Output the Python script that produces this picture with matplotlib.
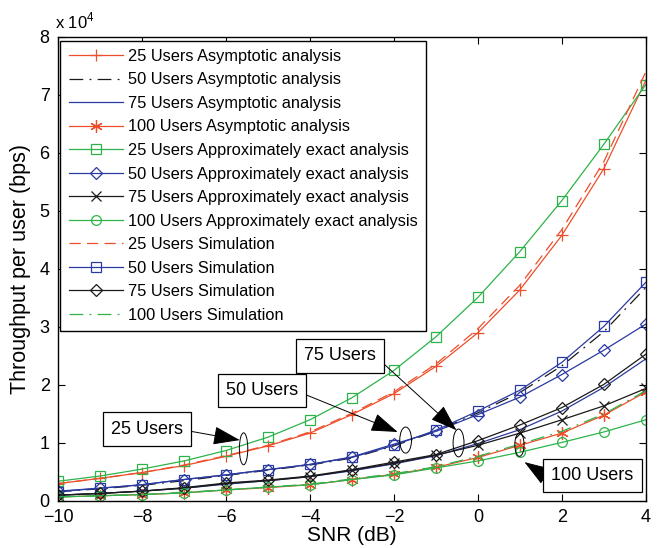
import matplotlib
matplotlib.use("Agg")
import matplotlib.pyplot as plt
from matplotlib.patches import Ellipse

plt.rcParams['font.family'] = ['Liberation Sans', 'DejaVu Sans']
plt.rcParams['mathtext.fontset'] = 'custom'
plt.rcParams['mathtext.rm'] = 'Liberation Sans'

# SNR in dB, throughput in units of 1e4 bps
snr = [-10, -9, -8, -7, -6, -5, -4, -3, -2, -1, 0, 1, 2, 3, 4]

asym25 = [0.30, 0.39, 0.49, 0.61, 0.77, 0.95, 1.17, 1.49, 1.85, 2.32, 2.90, 3.64, 4.58, 5.73, 7.25]
asym50 = [0.16, 0.21, 0.27, 0.35, 0.44, 0.53, 0.62, 0.74, 0.95, 1.20, 1.52, 1.87, 2.33, 2.92, 3.68]
asym75 = [0.10, 0.13, 0.17, 0.22, 0.29, 0.35, 0.42, 0.52, 0.64, 0.78, 0.99, 1.23, 1.55, 1.96, 2.45]
asym100 = [0.07, 0.09, 0.11, 0.14, 0.19, 0.23, 0.28, 0.37, 0.46, 0.58, 0.75, 0.96, 1.17, 1.48, 1.88]
approx25 = [0.34, 0.43, 0.55, 0.69, 0.87, 1.10, 1.40, 1.78, 2.25, 2.83, 3.51, 4.30, 5.18, 6.15, 7.18]
approx50 = [0.17, 0.22, 0.28, 0.37, 0.45, 0.54, 0.63, 0.76, 0.98, 1.20, 1.49, 1.79, 2.18, 2.60, 3.05]
approx75 = [0.10, 0.13, 0.17, 0.22, 0.30, 0.35, 0.42, 0.53, 0.65, 0.79, 0.96, 1.17, 1.40, 1.64, 1.94]
approx100 = [0.07, 0.09, 0.11, 0.14, 0.19, 0.24, 0.28, 0.37, 0.45, 0.57, 0.69, 0.84, 1.01, 1.19, 1.40]
sim25 = [0.30, 0.39, 0.49, 0.62, 0.78, 0.96, 1.19, 1.51, 1.88, 2.36, 2.97, 3.72, 4.68, 5.85, 7.40]
sim50 = [0.16, 0.22, 0.28, 0.37, 0.45, 0.54, 0.63, 0.75, 0.96, 1.22, 1.55, 1.91, 2.39, 3.01, 3.77]
sim75 = [0.10, 0.13, 0.17, 0.23, 0.31, 0.36, 0.43, 0.54, 0.67, 0.80, 1.04, 1.31, 1.61, 2.01, 2.53]
sim100 = [0.07, 0.09, 0.11, 0.15, 0.19, 0.24, 0.29, 0.38, 0.47, 0.59, 0.77, 0.98, 1.20, 1.50, 1.90]

red = '#ee4e2a'
green = '#2db34a'
blue = '#2b3aa0'
black = '#1a1a1a'

dashed = (0, (9, 5))
dashdot = (0, (11, 5, 1.5, 5))
asterisk = (6, 2, 0)

series = [
    (asym25, '25 Users Asymptotic analysis', red, '-', '+'),
    (asym50, '50 Users Asymptotic analysis', black, dashdot, None),
    (asym75, '75 Users Asymptotic analysis', blue, '-', None),
    (asym100, '100 Users Asymptotic analysis', red, '-', asterisk),
    (approx25, '25 Users Approximately exact analysis', green, '-', 's'),
    (approx50, '50 Users Approximately exact analysis', blue, '-', 'D'),
    (approx75, '75 Users Approximately exact analysis', black, '-', 'x'),
    (approx100, '100 Users Approximately exact analysis', green, '-', 'o'),
    (sim25, '25 Users Simulation', red, dashed, None),
    (sim50, '50 Users Simulation', blue, '-', 's'),
    (sim75, '75 Users Simulation', black, '-', 'D'),
    (sim100, '100 Users Simulation', green, dashdot, None),
]

fig = plt.figure(figsize=(6.59, 5.48), dpi=100)
ax = fig.add_axes([0.088, 0.0858, 0.892, 0.8467])

for vals, label, col, ls, mk in series:
    ms = 7
    if mk == 'D':
        ms = 6
    if mk == asterisk or mk == '+':
        ms = 9
    ax.plot(snr, vals, color=col, linestyle=ls, marker=mk, markersize=ms,
            markerfacecolor='none', markeredgecolor=col, markeredgewidth=0.9,
            linewidth=0.9, label=label)

ax.set_xlim(-10, 4)
ax.set_ylim(0, 8)
ax.set_xticks(range(-10, 5, 2))
ax.set_xticklabels(['\u221210', '\u22128', '\u22126', '\u22124', '\u22122', '0', '2', '4'])
ax.set_yticks(range(0, 9))
ax.tick_params(direction='in', top=True, right=True, labelsize=13, length=5, width=0.8, pad=6)
for sp in ax.spines.values():
    sp.set_linewidth(1.0)
ax.set_xlabel('SNR (dB)', fontsize=15, labelpad=0)
ax.set_ylabel('Throughput per user (bps)', fontsize=15.5, labelpad=6)
ax.text(-0.005, 1.012, r'x 10$^{4}$', transform=ax.transAxes, fontsize=12, ha='left', va='bottom')

leg = ax.legend(loc='upper left', bbox_to_anchor=(0.004, 0.992), fontsize=11.8, frameon=True,
                fancybox=False, edgecolor='black', framealpha=1, handlelength=3.3,
                handletextpad=0.35, labelspacing=0.52, borderpad=0.5, borderaxespad=0)
leg.get_frame().set_linewidth(1.0)

# annotation boxes with arrows and ellipses
bbox = dict(boxstyle='square,pad=0.45', facecolor='white', edgecolor='black', linewidth=0.9)
arrow = dict(arrowstyle='-|>,head_length=1.3,head_width=0.45', color='black', lw=0.7,
             shrinkA=0, shrinkB=0)

ax.annotate('25 Users', xy=(-5.67, 1.05), xytext=(-7.88, 1.24), fontsize=13, ha='center', va='center',
            bbox=bbox, arrowprops=dict(arrow, relpos=(1.0, 0.45)))
ax.annotate('50 Users', xy=(-1.91, 1.19), xytext=(-5.14, 1.9), fontsize=13, ha='center', va='center',
            bbox=bbox, arrowprops=dict(arrow, relpos=(1.0, 0.45)))
ax.annotate('75 Users', xy=(-0.51, 1.22), xytext=(-3.28, 2.5), fontsize=13, ha='center', va='center',
            bbox=bbox, arrowprops=dict(arrow, relpos=(1.0, 0.45)))
ax.annotate('100 Users', xy=(1.11, 0.67), xytext=(2.73, 0.44), fontsize=13, ha='center', va='center',
            bbox=bbox, arrowprops=dict(arrow, relpos=(0.0, 0.25)))

for cx, cy, w, h in [(-5.58, 0.90, 0.2, 0.55), (-1.72, 1.05, 0.28, 0.45),
                     (-0.46, 1.0, 0.26, 0.48), (0.99, 0.97, 0.22, 0.4)]:
    ax.add_patch(Ellipse((cx, cy), w, h, fill=False, edgecolor='black', linewidth=0.7, zorder=5))

fig.savefig('out.png', dpi=100)
